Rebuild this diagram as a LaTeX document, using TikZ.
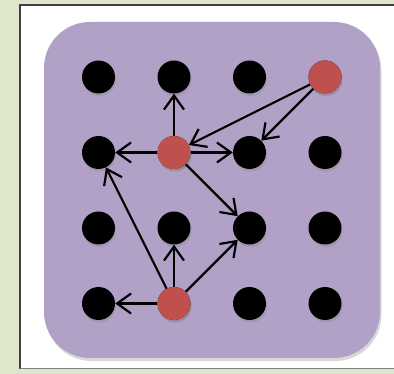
\documentclass[tikz,border=0pt]{standalone}
\usetikzlibrary{arrows.meta,shadows}
\definecolor{pagegreen}{RGB}{222,231,204}
\definecolor{lilac}{RGB}{177,161,199}
\definecolor{brick}{RGB}{192,80,77}
\begin{document}
\begin{tikzpicture}[x=1pt,y=-1pt,
    dot/.style={circle,fill=black,minimum size=33pt,inner sep=0pt,
      drop shadow={shadow xshift=1pt,shadow yshift=-2.5pt,opacity=0.3}},
    hot/.style={dot,fill=brick},
    link/.style={line width=2.2pt,-{Straight Barb[length=14pt,width=20pt]}}]
  \useasboundingbox (0,0) rectangle (394,374);
  % page and frame
  \fill[pagegreen] (0,0) rectangle (394,374);
  \fill[white] (20,5.5) rectangle (394,369);
  \draw[line width=2pt,black!75] (20,369) -- (20,5.5) -- (394,5.5);
  \draw[line width=1pt,gray] (20,369) -- (394,369);
  \fill[lilac,rounded corners=46pt,
    drop shadow={shadow xshift=1.5pt,shadow yshift=-3pt,opacity=0.3}]
    (44,22) rectangle (380,358);
  % grid of dots
  \foreach \c in {0,...,3}
    \foreach \r in {0,...,3}
      \node[dot] (n\c\r) at (98.5+75.5*\c, 77+75.5*\r) {};
  \node[hot] (top) at (n30) {};
  \node[hot] (mid) at (n11) {};
  \node[hot] (low) at (n13) {};
  % arrows
  \draw[link] (top) -- (mid);
  \draw[link] (top) -- (n21);
  \draw[link] (mid) -- (n10);
  \draw[link] (mid) -- (n01);
  \draw[link] (mid) -- (n21);
  \draw[link] (mid) -- (n22);
  \draw[link] (low) -- (n01);
  \draw[link] (low) -- (n12);
  \draw[link] (low) -- (n22);
  \draw[link] (low) -- (n03);
\end{tikzpicture}
\end{document}
